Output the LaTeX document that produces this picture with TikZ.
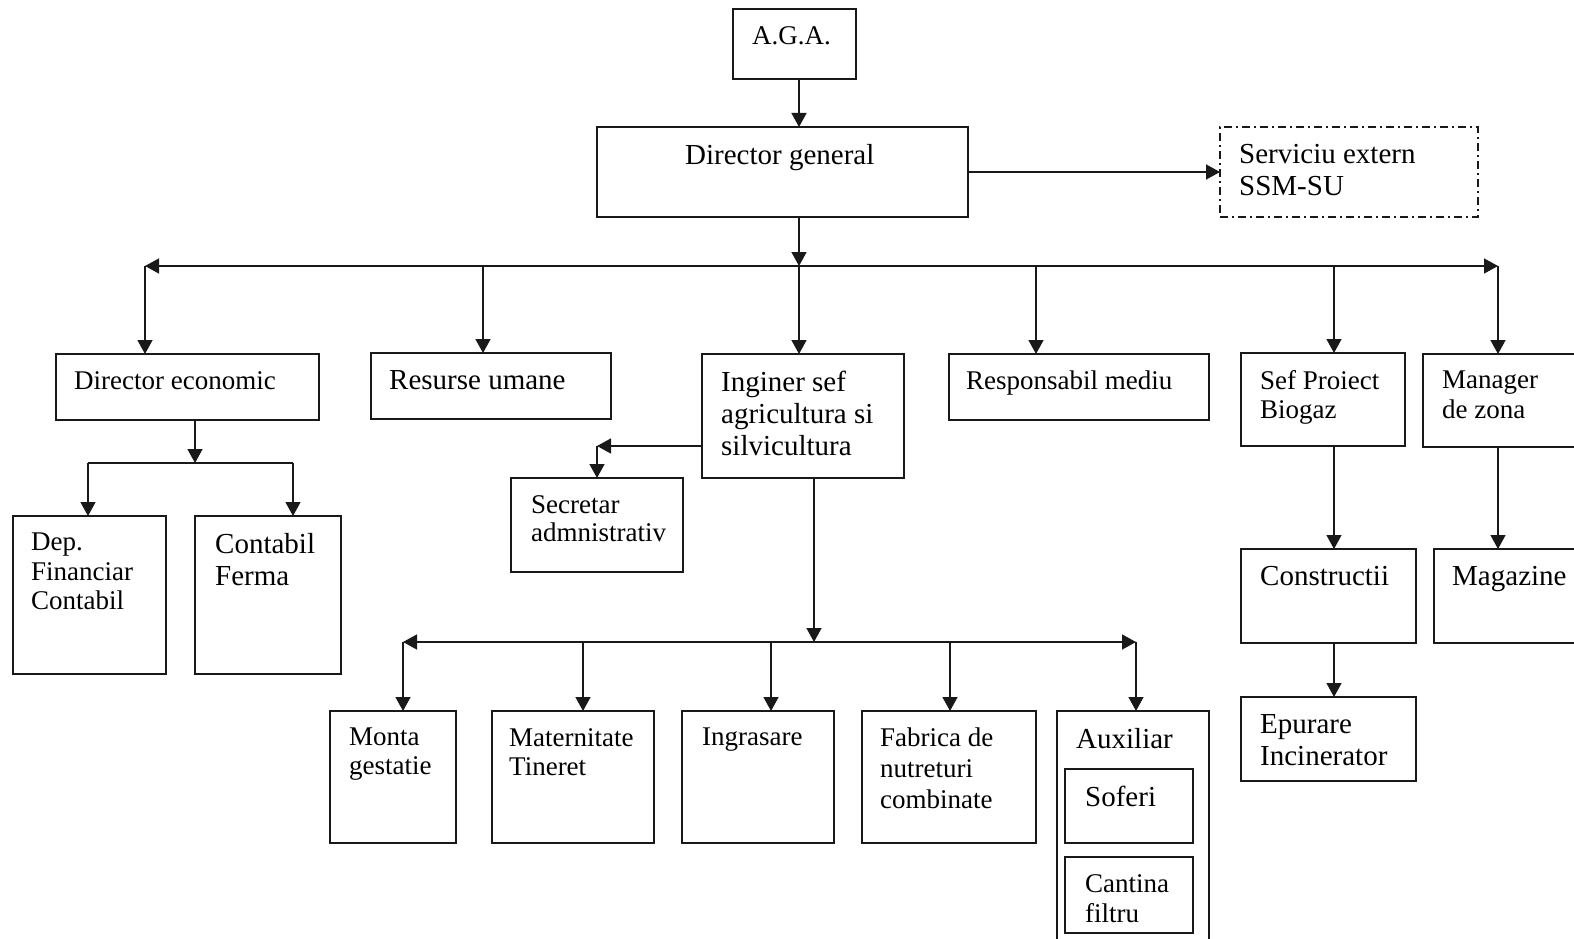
\documentclass[tikz,border=0pt]{standalone}
\usepackage{fontspec}
\setmainfont{Liberation Serif}
\usetikzlibrary{arrows.meta}

% Org box: \obox[label options]{name}{x1}{y1}{x2}{y2}{text}
\newcommand{\obox}[7][]{%
  \node[box,minimum width={(#5-#3)*1pt},minimum height={(#6-#4)*1pt},
        label={[lbl,#1]north west:#7}] (#2) at ({(#3+#5)/2},{(#4+#6)/2}) {};}

\begin{document}
\begin{tikzpicture}[x=1pt,y=-1pt,
  box/.style={draw=black!90,line width=1.4pt,rectangle,inner sep=0pt,outer sep=0pt},
  lbl/.style={anchor=north west,inner sep=0pt,align=left,xshift=19pt,yshift=-17pt,
              font=\fontsize{27}{29.5}\selectfont},
  big/.style={font=\fontsize{29}{32}\selectfont},
  dashdot/.style={dash pattern=on 8pt off 4pt on 2pt off 4pt},
  conn/.style={draw=black!90,line width=1.4pt},
  tip/.tip={Triangle[length=14pt,width=15pt]},
  arr/.style={conn,-tip},
  biarr/.style={conn,tip-tip}]

\useasboundingbox (0,0) rectangle (1574,939);
\fill[white] (0,0) rectangle (1574,939);
\clip (0,0) rectangle (1574,939);

% top levels
\obox{aga}{733}{9}{856}{79}{A.G.A.}
\obox[big,xshift=69pt]{dg}{597}{127}{968}{217}{Director general}
\node[box,dashdot,minimum width=258pt,minimum height=90pt,
      label={[lbl,big]north west:Serviciu extern\\SSM-SU}] (ssm) at (1349,172) {};

% second level
\obox[xshift=-1pt]{de}{56}{354}{319}{420}{Director economic}
\obox[big,xshift=-1pt]{ru}{371}{353}{611}{419}{Resurse umane}
\obox[big]{ing}{702}{354}{904}{478}{Inginer sef\\agricultura si\\silvicultura}
\obox[xshift=-2pt]{resp}{949}{354}{1209}{420}{Responsabil mediu}
\obox{sef}{1241}{353}{1405}{446}{Sef Proiect\\Biogaz}
\obox{mgr}{1423}{354}{1600}{447}{Manager\\de zona}

% third level
\obox[xshift=-1pt]{dep}{13}{516}{166}{674}{Dep.\\Financiar\\Contabil}
\obox[big,xshift=1pt]{cf}{195}{516}{341}{674}{Contabil\\Ferma}
\obox[font=\fontsize{27}{28.5}\selectfont,xshift=1pt]{sec}{511}{478}{683}{572}{Secretar\\admnistrativ}
\obox[big]{cons}{1241}{549}{1416}{643}{Constructii}
\obox[big,xshift=-1pt]{mag}{1434}{549}{1600}{643}{Magazine}
\obox[big]{ep}{1241}{697}{1416}{781}{Epurare\\Incinerator}

% farm units
\obox[font=\fontsize{27}{29}\selectfont]{monta}{330}{711}{456}{843}{Monta\\gestatie}
\obox[font=\fontsize{27}{29}\selectfont,xshift=-2pt]{mat}{492}{711}{654}{843}{Maternitate\\Tineret}
\obox[xshift=1pt]{ingr}{682}{711}{834}{843}{Ingrasare}
\obox[font=\fontsize{27}{31}\selectfont,xshift=-1pt]{fab}{862}{711}{1036}{843}{Fabrica de\\nutreturi\\combinate}
\obox[big]{aux}{1057}{711}{1209}{960}{Auxiliar}
\obox[big,xshift=1pt]{sof}{1065}{769}{1193}{843}{Soferi}
\obox[font=\fontsize{27}{30}\selectfont,xshift=1pt]{cant}{1065}{857}{1193}{933}{Cantina\\filtru}

% main distribution line
\coordinate (b1L) at (145,266);
\coordinate (b1R) at (1498,266);
\coordinate (b1a) at (483,266);
\coordinate (b1b) at (799,266);
\coordinate (b1c) at (1036,266);
\coordinate (b1d) at (1334,266);

\draw[arr] (b1b |- aga.south) -- (b1b |- dg.north);
\draw[arr] (b1b |- dg.south) -- (b1b);
\draw[arr] (dg.east) -- (ssm.west);
\draw[biarr] (b1L) -- (b1R);
\draw[arr] (b1L) -- (b1L |- de.north);
\draw[arr] (b1a) -- (b1a |- ru.north);
\draw[arr] (b1b) -- (b1b |- ing.north);
\draw[arr] (b1c) -- (b1c |- resp.north);
\draw[arr] (b1d) -- (b1d |- sef.north);
\draw[arr] (b1R) -- (b1R |- mgr.north);

% economic branch
\coordinate (e0) at (195,463);
\coordinate (eL) at (88,463);
\coordinate (eR) at (293,463);
\draw[arr] (e0 |- de.south) -- (e0);
\draw[conn] (eL) -- (eR);
\draw[arr] (eL) -- (eL |- dep.north);
\draw[arr] (eR) -- (eR |- cf.north);

% secretary
\coordinate (sk) at (597,446);
\draw[arr] (ing.west |- sk) -- (sk);
\draw[arr] (sk) -- (sk |- sec.north);

% farm units distribution line
\coordinate (b2m) at (814,642);
\coordinate (b2L) at (403,642);
\coordinate (b2R) at (1136,642);
\coordinate (b2a) at (583,642);
\coordinate (b2b) at (771,642);
\coordinate (b2c) at (950,642);
\draw[arr] (b2m |- ing.south) -- (b2m);
\draw[biarr] (b2L) -- (b2R);
\draw[arr] (b2L) -- (b2L |- monta.north);
\draw[arr] (b2a) -- (b2a |- mat.north);
\draw[arr] (b2b) -- (b2b |- ingr.north);
\draw[arr] (b2c) -- (b2c |- fab.north);
\draw[arr] (b2R) -- (b2R |- aux.north);

% biogas and zone branches
\draw[arr] (b1d |- sef.south) -- (b1d |- cons.north);
\draw[arr] (b1d |- cons.south) -- (b1d |- ep.north);
\draw[arr] (b1R |- mgr.south) -- (b1R |- mag.north);
\end{tikzpicture}
\end{document}
